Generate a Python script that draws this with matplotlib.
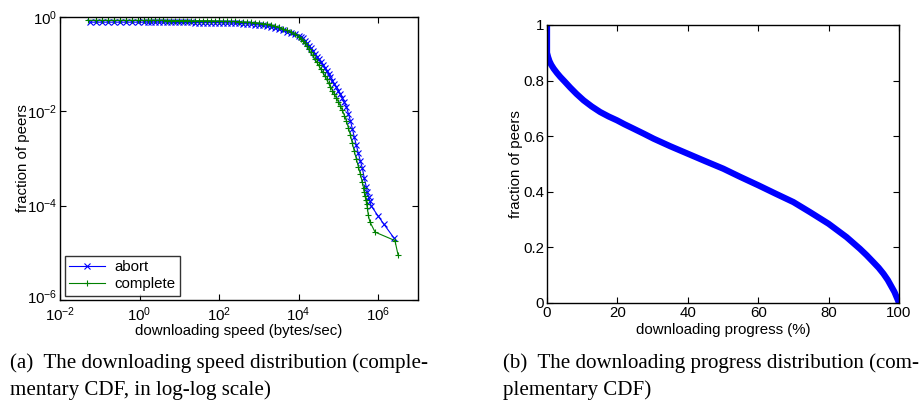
import numpy as np
import matplotlib
matplotlib.use("Agg")
import matplotlib.pyplot as plt
import matplotlib.transforms as mtransforms
from matplotlib.ticker import NullLocator, FixedLocator

plt.rcParams['font.family'] = ['Liberation Sans', 'DejaVu Sans']
plt.rcParams['mathtext.fontset'] = 'custom'
plt.rcParams['mathtext.rm'] = 'Liberation Sans'
plt.rcParams['mathtext.it'] = 'Liberation Sans'
plt.rcParams['mathtext.default'] = 'regular'

# (a) downloading speed, CCDF in log-log (values read as log10 exponents)
abort_log_speed = [-1.25, -1.1, -0.95, -0.8, -0.65, -0.5, -0.35, -0.2, -0.05, 0.1,
                   0.2, 0.3, 0.4, 0.5, 0.6, 0.7, 0.8, 0.9, 1.0, 1.1, 1.2, 1.3, 1.4,
                   1.5, 1.6, 1.7, 1.8, 1.9, 2.0, 2.1, 2.2, 2.3, 2.4, 2.5, 2.6, 2.7,
                   2.8, 2.9, 3.0, 3.1, 3.2, 3.3, 3.4, 3.5, 3.6, 3.7, 3.8, 3.9, 4.0,
                   4.05, 4.1, 4.15, 4.2, 4.25, 4.3, 4.35, 4.4, 4.45, 4.5, 4.55, 4.6,
                   4.65, 4.7, 4.75, 4.8, 4.85, 4.9, 4.95, 5.0, 5.05, 5.1, 5.15, 5.2,
                   5.25, 5.3, 5.35, 5.4, 5.45, 5.5, 5.55, 5.6, 5.65, 5.7, 5.73, 5.76,
                   5.79, 5.82, 5.99, 6.14, 6.4]
abort_log_frac = [-0.11, -0.11, -0.11, -0.11, -0.11, -0.11, -0.11, -0.11, -0.11, -0.11,
                  -0.11, -0.11, -0.11, -0.11, -0.11, -0.11, -0.115, -0.115, -0.115,
                  -0.115, -0.115, -0.115, -0.12, -0.12, -0.12, -0.12, -0.12, -0.12,
                  -0.12, -0.125, -0.125, -0.13, -0.13, -0.135, -0.14, -0.145, -0.15,
                  -0.16, -0.17, -0.18, -0.195, -0.21, -0.235, -0.26, -0.285, -0.31,
                  -0.335, -0.365, -0.40, -0.425, -0.45, -0.50, -0.55, -0.605, -0.66,
                  -0.72, -0.78, -0.84, -0.90, -0.96, -1.02, -1.085, -1.15, -1.215,
                  -1.28, -1.35, -1.42, -1.49, -1.56, -1.64, -1.72, -1.81, -1.90,
                  -2.05, -2.20, -2.37, -2.55, -2.72, -2.89, -3.05, -3.20, -3.42,
                  -3.60, -3.72, -3.82, -3.90, -4.00, -4.21, -4.39, -4.69]

complete_log_speed = [-1.29, -1.1, -0.95, -0.8, -0.65, -0.5, -0.35, -0.2, -0.05, 0.1,
                      0.2, 0.3, 0.4, 0.5, 0.6, 0.7, 0.8, 0.9, 1.0, 1.1, 1.2, 1.3, 1.4,
                      1.5, 1.6, 1.7, 1.8, 1.9, 2.0, 2.1, 2.2, 2.3, 2.4, 2.5, 2.6, 2.7,
                      2.8, 2.9, 3.0, 3.1, 3.2, 3.3, 3.4, 3.5, 3.6, 3.7, 3.8, 3.9, 4.0,
                      4.05, 4.1, 4.15, 4.2, 4.25, 4.3, 4.35, 4.4, 4.45, 4.5, 4.55, 4.6,
                      4.65, 4.7, 4.75, 4.8, 4.85, 4.9, 4.95, 5.0, 5.05, 5.1, 5.15, 5.2,
                      5.25, 5.3, 5.35, 5.4, 5.45, 5.5, 5.55, 5.6, 5.63, 5.65, 5.67,
                      5.69, 5.71, 5.73, 5.75, 5.79, 5.92, 6.42, 6.5]
complete_log_frac = [-0.07, -0.07, -0.07, -0.07, -0.07, -0.07, -0.07, -0.07, -0.07,
                     -0.07, -0.07, -0.07, -0.07, -0.07, -0.07, -0.075, -0.075, -0.075,
                     -0.075, -0.075, -0.075, -0.08, -0.08, -0.08, -0.08, -0.08, -0.08,
                     -0.085, -0.085, -0.09, -0.09, -0.095, -0.095, -0.10, -0.105,
                     -0.11, -0.115, -0.12, -0.13, -0.14, -0.15, -0.16, -0.19, -0.22,
                     -0.25, -0.28, -0.31, -0.36, -0.42, -0.46, -0.50, -0.56, -0.62,
                     -0.685, -0.75, -0.815, -0.88, -0.95, -1.02, -1.095, -1.17, -1.245,
                     -1.32, -1.40, -1.48, -1.56, -1.64, -1.72, -1.80, -1.89, -1.98,
                     -2.09, -2.20, -2.35, -2.50, -2.68, -2.85, -3.01, -3.17, -3.33,
                     -3.50, -3.62, -3.72, -3.80, -3.88, -3.97, -4.06, -4.20, -4.34,
                     -4.56, -4.74, -5.05]

# (b) downloading progress, CCDF
progress = [0, 0, 0.3, 0.7, 1.2, 1.9, 2.8, 3.8, 5.0, 6.6, 8.4, 10.4, 12.7, 15.1,
            17.5, 19.9, 22.0, 24.6, 27.5, 30.3, 35, 40, 45, 50.1, 55, 60.1, 65, 70,
            74.7, 80, 85.1, 88.9, 90.8, 92.7, 94.2, 95.6, 96.8, 97.9, 98.7, 99.3,
            99.7, 100]
progress_frac = [1.0, 0.9, 0.885, 0.87, 0.857, 0.843, 0.828, 0.813, 0.797, 0.775,
                 0.752, 0.729, 0.707, 0.687, 0.671, 0.657, 0.643, 0.627, 0.609, 0.591,
                 0.564, 0.537, 0.510, 0.483, 0.453, 0.423, 0.393, 0.363, 0.327, 0.285,
                 0.237, 0.195, 0.172, 0.147, 0.127, 0.105, 0.083, 0.058, 0.040, 0.022,
                 0.010, 0.0]

fig = plt.figure(figsize=(9.22, 4.03), dpi=100)

fs = 10.8

# left panel
ax1 = fig.add_axes([60/922, 103/403, 358/922, 283/403])
ax1.plot(10.0 ** np.array(abort_log_speed), 10.0 ** np.array(abort_log_frac),
         color='blue', marker='x', markersize=4, markeredgewidth=0.8,
         linewidth=0.8, label='abort')
ax1.plot(10.0 ** np.array(complete_log_speed), 10.0 ** np.array(complete_log_frac),
         color='green', marker='+', markersize=5, markeredgewidth=0.8,
         linewidth=0.8, label='complete')
ax1.set_xscale('log')
ax1.set_yscale('log')
ax1.set_xlim(1e-2, 1e7)
ax1.set_ylim(1e-6, 1e0)
ax1.xaxis.set_major_locator(FixedLocator([1e-2, 1e0, 1e2, 1e4, 1e6]))
ax1.yaxis.set_major_locator(FixedLocator([1e-6, 1e-4, 1e-2, 1e0]))
ax1.xaxis.set_minor_locator(NullLocator())
ax1.yaxis.set_minor_locator(NullLocator())
leg = ax1.legend(loc='lower left', fontsize=fs, handlelength=2.4, borderpad=0.3,
                 labelspacing=0.2, fancybox=False, edgecolor='black',
                 borderaxespad=0.3, handletextpad=0.6)
leg.get_frame().set_linewidth(1.0)

# right panel
ax2 = fig.add_axes([547/922, 100/403, 352/922, 278/403])
ax2.plot(progress, progress_frac, color='blue', linewidth=4.5,
         solid_capstyle='butt')
ax2.set_xlim(0, 100)
ax2.set_ylim(0, 1)
ax2.set_xticks([0, 20, 40, 60, 80, 100])
ax2.set_yticks([0, 0.2, 0.4, 0.6, 0.8, 1])
ax2.set_yticklabels(['0', '0.2', '0.4', '0.6', '0.8', '1'])

for ax in (ax1, ax2):
    ax.tick_params(which='both', direction='in', top=True, right=True,
                   length=4, width=0.8, labelsize=fs, pad=2)
    for s in ax.spines.values():
        s.set_linewidth(1.0)
ax1.tick_params(axis='x', pad=4)

# lift the 10^-6 label a little so it clears the 10^-2 below it
low = ax1.yaxis.get_major_ticks()[0].label1
low.set_transform(low.get_transform() +
                  mtransforms.ScaledTranslation(0, 3/72, fig.dpi_scale_trans))

ax1.set_xlabel('downloading speed (bytes/sec)', fontsize=fs, labelpad=0)
ax1.set_ylabel('fraction of peers', fontsize=fs, labelpad=-2)
ax2.set_xlabel('downloading progress (%)', fontsize=fs, labelpad=2)
ax2.set_ylabel('fraction of peers', fontsize=fs, labelpad=0)

cap = dict(fontsize=15.1, family=['Liberation Serif', 'DejaVu Serif'], va='center')
fig.text(10/922, 1 - 363/403, '(a)  The downloading speed distribution (comple-', **cap)
fig.text(10/922, 1 - 390/403, 'mentary CDF, in log-log scale)', **cap)
fig.text(503/922, 1 - 363/403, '(b)  The downloading progress distribution (com-', **cap)
fig.text(503/922, 1 - 390/403, 'plementary CDF)', **cap)

fig.savefig('out.png', dpi=100)
